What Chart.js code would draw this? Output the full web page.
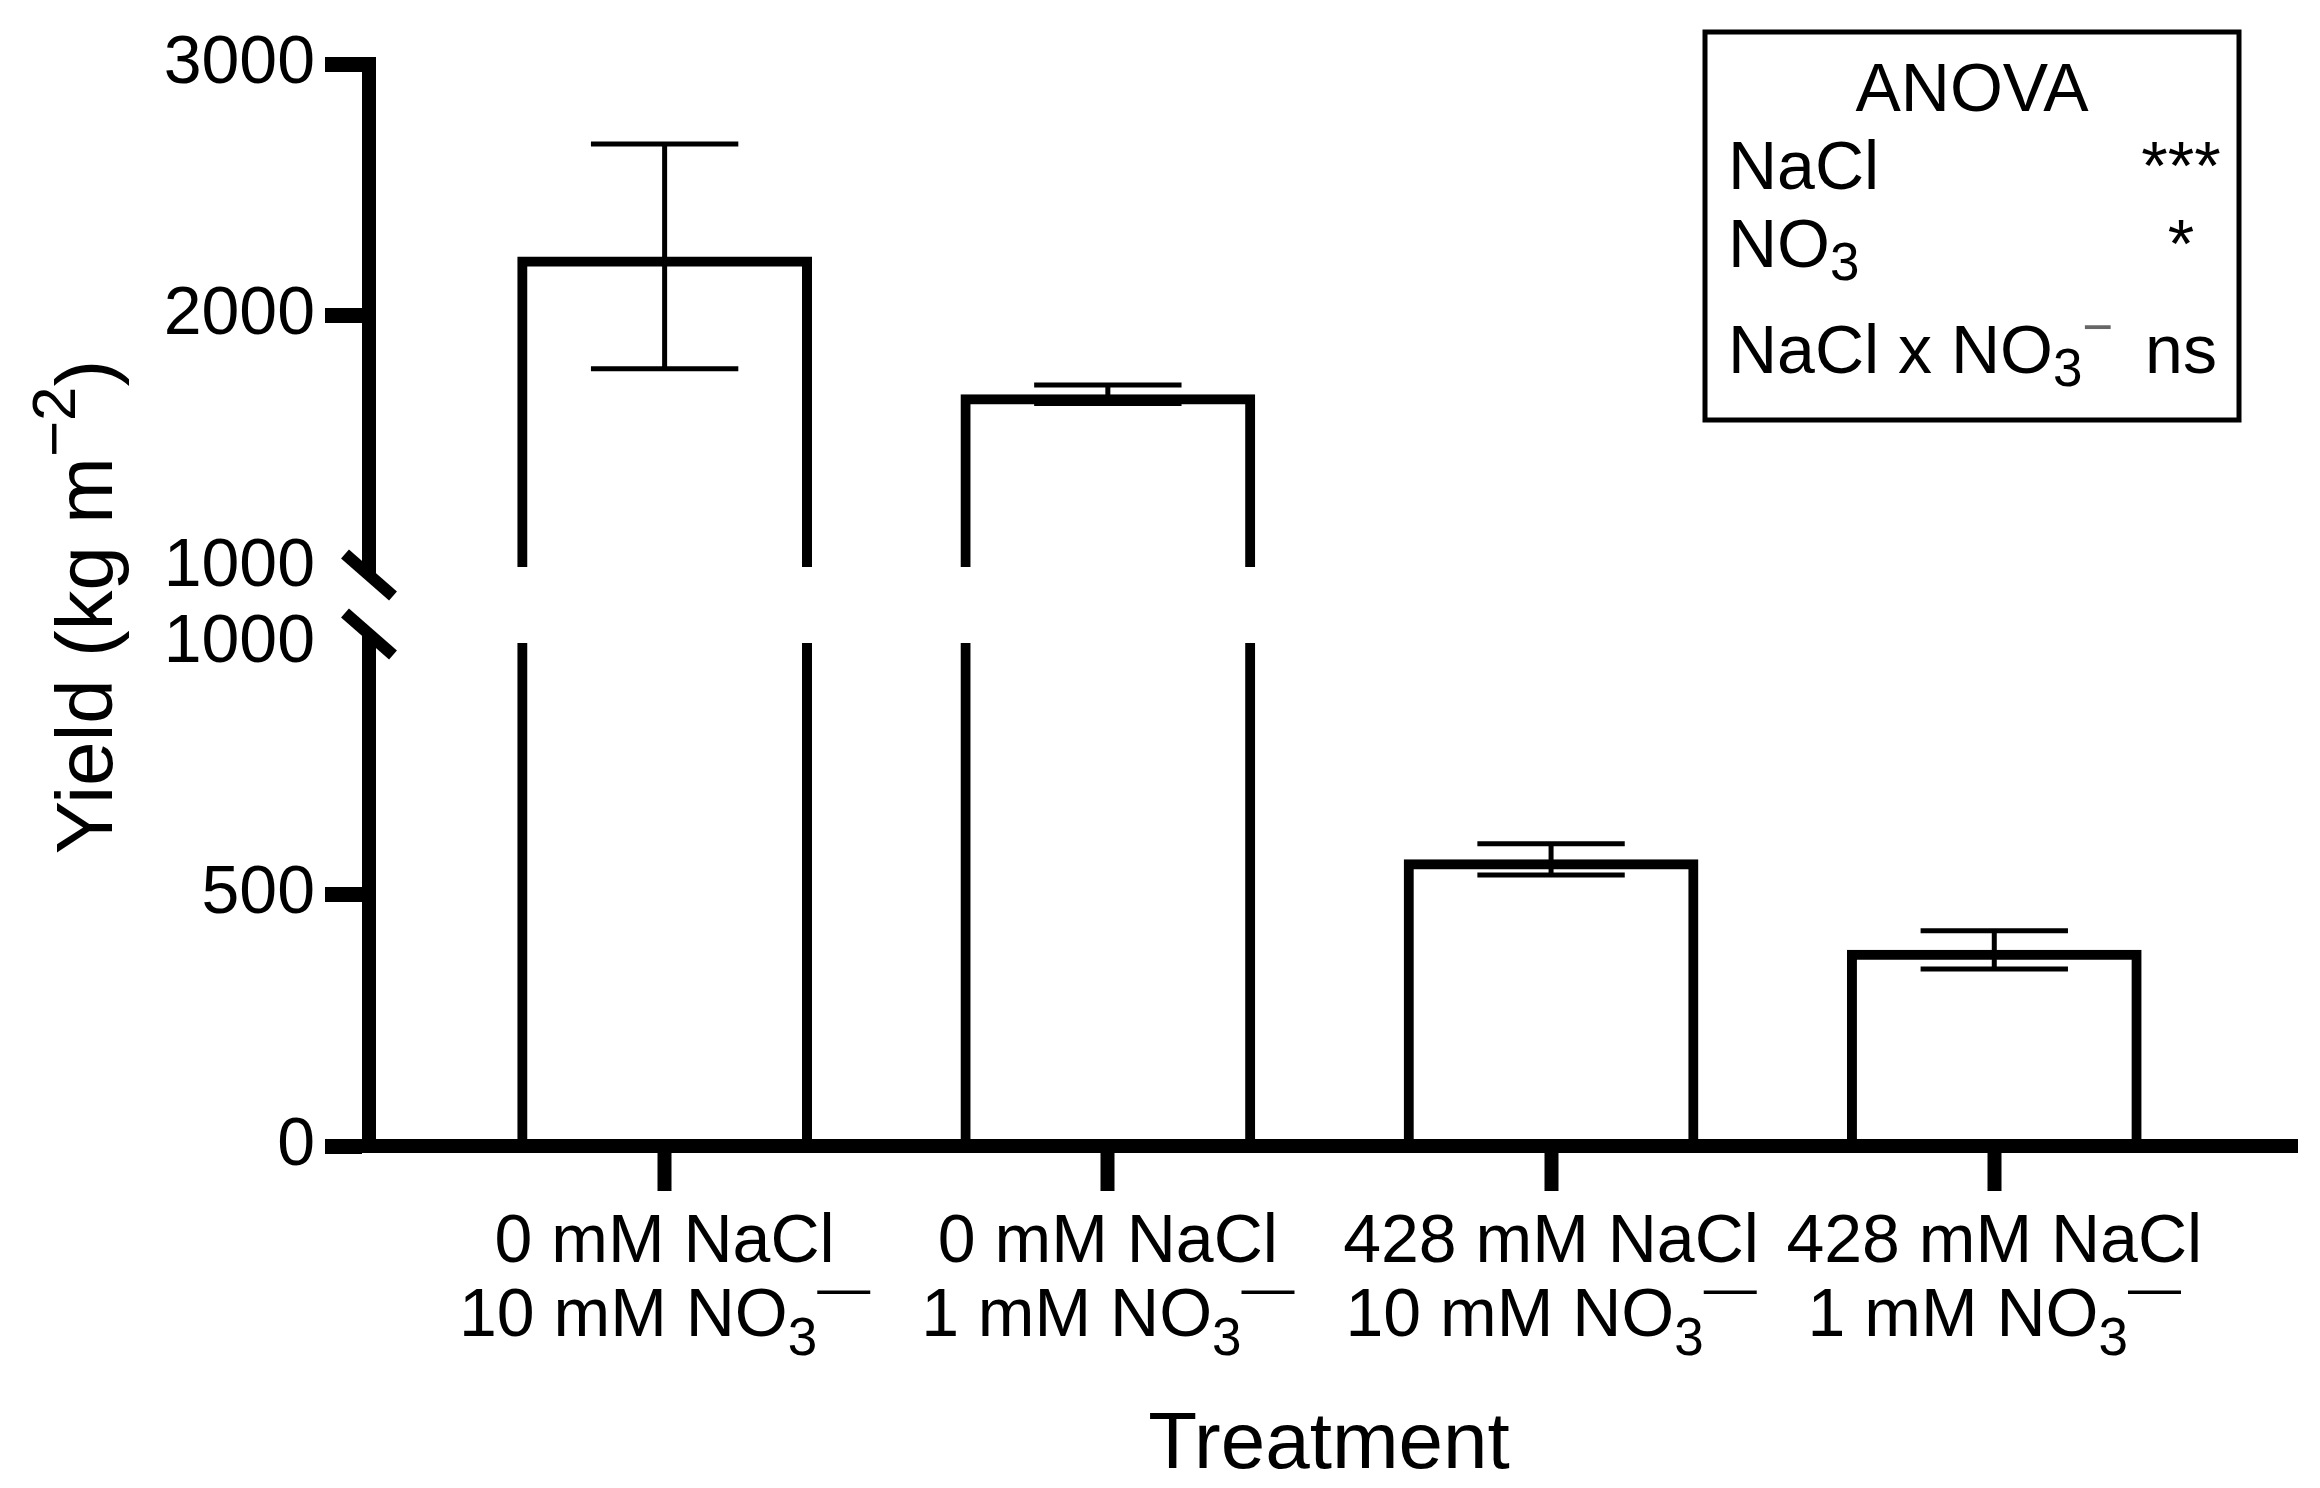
<!DOCTYPE html>
<html>
<head>
<meta charset="utf-8">
<script src="https://cdn.jsdelivr.net/npm/chart.js@4.4.1/dist/chart.umd.min.js"></script>
<style>
  html, body { margin: 0; padding: 0; background: #ffffff; }
  #wrap { width: 2320px; height: 1488px; position: relative; background: #ffffff; }
  canvas { display: block; }
</style>
</head>
<body>
<div id="wrap"><canvas id="chart" width="2320" height="1488"></canvas></div>
<script>
// ---------------- data ----------------
const naclLevels    = ['0 mM NaCl', '0 mM NaCl', '428 mM NaCl', '428 mM NaCl'];
const nitrateLevels = ['10 mM NO_{3}^{—}', '1 mM NO_{3}^{—}', '10 mM NO_{3}^{—}', '1 mM NO_{3}^{—}'];
const yieldMean     = [2235, 1687, 570, 390];
const yieldError    = [447, 37, 31, 38];
const yTicksLower   = [0, 500, 1000];
const yTicksUpper   = [1000, 2000, 3000];
const axisBreak     = 1000;
const yMax          = 3000;
const xTitle        = 'Treatment';
const yTitle        = 'Yield (kg m^{−2})';
const anovaTitle    = 'ANOVA';
const anovaTerms    = ['NaCl', 'NO_{3}', 'NaCl x NO_{3}^{−}'];
const anovaSignif   = ['***', '*', 'ns'];

// ---------------- style ----------------
const FONT = '"Liberation Sans", Arial, Helvetica, sans-serif';
const GAP_FRAC = 76 / 1082;

// ---------------- broken linear scale ----------------
class BrokenLinearScale extends Chart.LinearScale {
  _geom() {
    const H = this.bottom - this.top;
    const gap = H * GAP_FRAC;
    const seg = (H - gap) / 2;
    return { gap, seg };
  }
  getPixelForValue(value) {
    if (value === null || value === undefined || isNaN(value)) return NaN;
    const { gap, seg } = this._geom();
    if (value <= axisBreak) {
      return this.bottom - (value - this.min) / (axisBreak - this.min) * seg;
    }
    return this.bottom - seg - gap - (value - axisBreak) / (this.max - axisBreak) * seg;
  }
  getValueForPixel(pixel) {
    const { gap, seg } = this._geom();
    const d = this.bottom - pixel;
    if (d <= seg) return this.min + d / seg * (axisBreak - this.min);
    return axisBreak + (d - seg - gap) / seg * (this.max - axisBreak);
  }
  getPixelForTick(index) {
    const t = this.ticks[index];
    if (!t) return NaN;
    if (t.upperSegment) return this.upperBreakPixel();
    return this.getPixelForValue(t.value);
  }
  upperBreakPixel() {
    const { gap, seg } = this._geom();
    return this.bottom - seg - gap;
  }
  lowerBreakPixel() {
    return this.getPixelForValue(axisBreak);
  }
}
BrokenLinearScale.id = 'brokenLinear';
BrokenLinearScale.defaults = Chart.LinearScale.defaults;
Chart.register(BrokenLinearScale);

// ---------------- rich text helper ----------------
function parseRich(str) {
  const out = [];
  const re = /([_^])\{([^}]*)\}/g;
  let last = 0, m;
  while ((m = re.exec(str))) {
    if (m.index > last) out.push({ t: str.slice(last, m.index), k: 'n' });
    out.push({ t: m[2], k: m[1] === '_' ? 'sub' : 'sup' });
    last = re.lastIndex;
  }
  if (last < str.length) out.push({ t: str.slice(last), k: 'n' });
  return out;
}
function drawRich(ctx, str, x, y, o) {
  const segs = parseRich(str);
  const fontFor = k => (k === 'n' ? o.size : Math.round(o.size * o.scriptScale)) + 'px ' + FONT;
  let total = 0;
  segs.forEach(s => { ctx.font = fontFor(s.k); s.w = ctx.measureText(s.t).width; total += s.w; });
  let cx = o.align === 'center' ? x - total / 2 : (o.align === 'right' ? x - total : x);
  ctx.textAlign = 'left';
  ctx.textBaseline = 'alphabetic';
  segs.forEach(s => {
    ctx.font = fontFor(s.k);
    ctx.fillStyle = (s.k === 'sup' && o.supColor) ? o.supColor : '#000';
    const dy = s.k === 'sub' ? o.subShift : (s.k === 'sup' ? -o.supShift : 0);
    ctx.fillText(s.t, cx, y + dy);
    cx += s.w;
  });
}

// ---------------- plugins ----------------
const decorPlugin = {
  id: 'decor',
  afterDatasetsDraw(chart) {
    const ctx = chart.ctx;
    const y = chart.scales.y;
    const meta = chart.getDatasetMeta(0);
    const area = chart.chartArea;
    ctx.save();
    // error bars
    ctx.strokeStyle = '#000';
    ctx.lineWidth = 5;
    ctx.lineCap = 'butt';
    meta.data.forEach((bar, i) => {
      const top = y.getPixelForValue(yieldMean[i] + yieldError[i]);
      const bot = y.getPixelForValue(yieldMean[i] - yieldError[i]);
      const half = bar.width / 4;
      ctx.beginPath();
      ctx.moveTo(bar.x, top); ctx.lineTo(bar.x, bot);
      ctx.moveTo(bar.x - half, top); ctx.lineTo(bar.x + half, top);
      ctx.moveTo(bar.x - half, bot); ctx.lineTo(bar.x + half, bot);
      ctx.stroke();
    });
    // axis break gap
    const up = y.upperBreakPixel();
    const lo = y.lowerBreakPixel();
    const L = area.left;
    ctx.fillStyle = '#ffffff';
    ctx.fillRect(L + 8, up, area.right - L, lo - up);
    const s1 = up + 8, s2 = lo - 9;
    ctx.fillRect(L - 10, s1, 20, s2 - s1);
    ctx.strokeStyle = '#000';
    ctx.lineWidth = 12;
    [s1, s2].forEach(cy => {
      ctx.beginPath();
      ctx.moveTo(L - 24, cy - 21);
      ctx.lineTo(L + 24, cy + 21);
      ctx.stroke();
    });
    ctx.restore();
  },
  afterDraw(chart) {
    const ctx = chart.ctx;
    const x = chart.scales.x;
    const area = chart.chartArea;
    ctx.save();
    // category labels
    naclLevels.forEach((lab, i) => {
      const px = x.getPixelForValue(i);
      drawRich(ctx, lab, px, area.bottom + 116, { size: 68, align: 'center', scriptScale: 0.78, subShift: 19, supShift: 30 });
      drawRich(ctx, nitrateLevels[i], px, area.bottom + 190, { size: 68, align: 'center', scriptScale: 0.78, subShift: 19, supShift: 30 });
    });
    // axis titles
    drawRich(ctx, xTitle, (area.left + area.right) / 2 - 4, area.bottom + 322, { size: 80, align: 'center', scriptScale: 0.78, subShift: 0, supShift: 0 });
    ctx.save();
    ctx.translate(112, (area.top + area.bottom) / 2 + 2);
    ctx.rotate(-Math.PI / 2);
    drawRich(ctx, yTitle, 0, 0, { size: 80, align: 'center', scriptScale: 0.78, subShift: 0, supShift: 37 });
    ctx.restore();
    // ANOVA box
    ctx.strokeStyle = '#000';
    ctx.lineWidth = 5;
    ctx.strokeRect(1705, 32, 534, 388);
    drawRich(ctx, anovaTitle, 1972, 111, { size: 68, align: 'center', scriptScale: 0.78, subShift: 13, supShift: 28 });
    const rowBase = [189, 267, 373];
    anovaTerms.forEach((t, i) => {
      drawRich(ctx, t, 1728, rowBase[i], { size: 68, align: 'left', scriptScale: 0.78, subShift: 13, supShift: 28, supColor: '#666' });
      drawRich(ctx, anovaSignif[i], 2181, rowBase[i], { size: 68, align: 'center', scriptScale: 0.78, subShift: 13, supShift: 28 });
    });
    ctx.restore();
  }
};

// ---------------- chart ----------------
new Chart(document.getElementById('chart').getContext('2d'), {
  type: 'bar',
  data: {
    datasets: [{
      data: yieldMean.map((v, i) => ({ x: i, y: v })),
      backgroundColor: 'rgba(0,0,0,0)',
      borderColor: '#000',
      borderWidth: 10,
      borderSkipped: 'start',
      categoryPercentage: 1,
      barPercentage: 0.665
    }]
  },
  options: {
    responsive: false,
    devicePixelRatio: 1,
    animation: false,
    layout: { padding: { top: 64, right: 23, bottom: 0, left: 0 } },
    plugins: { legend: { display: false }, tooltip: { enabled: false }, title: { display: false } },
    scales: {
      x: {
        type: 'linear',
        min: -0.667,
        max: 3.683,
        offset: false,
        afterBuildTicks: s => { s.ticks = naclLevels.map((_, i) => ({ value: i })); },
        afterFit: s => { s.height = 342; },
        ticks: { display: false },
        grid: { display: true, offset: false, drawOnChartArea: false, drawTicks: true, tickLength: 45, tickWidth: 14, tickColor: '#000', lineWidth: 1 },
        border: { display: true, width: 14, color: '#000' }
      },
      y: {
        type: 'brokenLinear',
        min: 0,
        max: yMax,
        afterBuildTicks: s => {
          s.ticks = yTicksLower.map(v => ({ value: v }))
            .concat(yTicksUpper.map(v => ({ value: v, upperSegment: v === axisBreak })));
        },
        afterFit: s => { s.width = 369; },
        ticks: {
          autoSkip: false,
          padding: 10,
          color: '#000',
          font: { family: FONT, size: 68 },
          callback: v => String(v)
        },
        grid: {
          display: true,
          drawOnChartArea: false,
          drawTicks: true,
          tickLength: 44,
          tickWidth: 15,
          lineWidth: 1,
          tickColor: c => (c.tick && c.tick.value === axisBreak) ? 'rgba(0,0,0,0)' : '#000'
        },
        border: { display: true, width: 14, color: '#000' }
      }
    }
  },
  plugins: [decorPlugin]
});
</script>
</body>
</html>
